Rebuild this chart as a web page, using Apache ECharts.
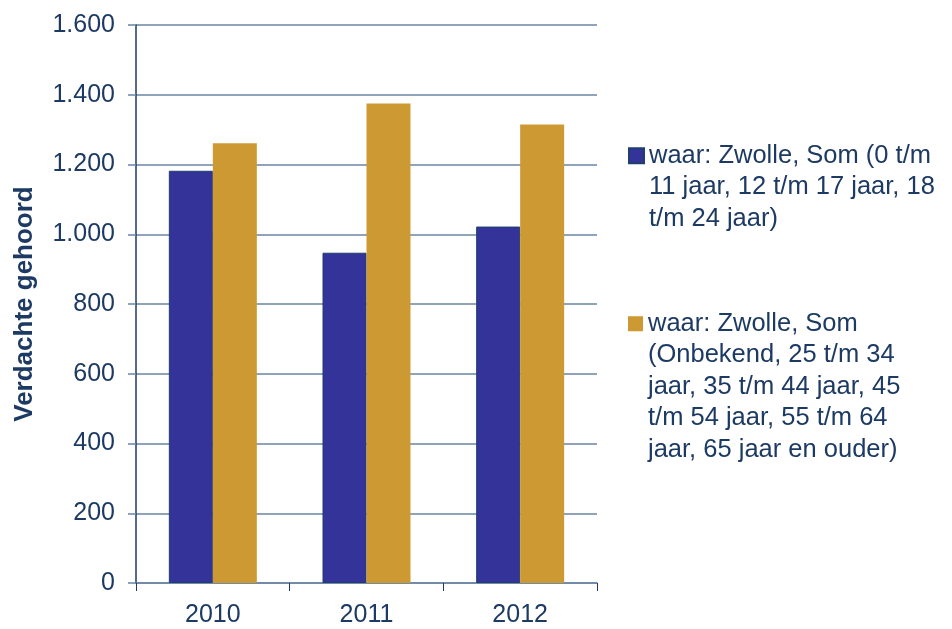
<!DOCTYPE html>
<html lang="nl">
<head>
    <meta charset="UTF-8">
    <title>Verdachte gehoord</title>
    <style>
        html, body { margin: 0; padding: 0; background: #fff; }
        #main { width: 952px; height: 629px; }
    </style>
</head>
<body>
    <div id="main"></div>
    <script src="https://cdn.jsdelivr.net/npm/echarts@6/dist/echarts.min.js"></script>
    <script>
        // jaren op de x-as
        var years = ['2010', '2011', '2012'];
        // leeftijd tot 24 jaar
        var jong = [1182, 947, 1022];
        // onbekend en 25 jaar en ouder
        var oud = [1261, 1375, 1315];
        var seriesNames = [
            'waar: Zwolle, Som (0 t/m\n11 jaar, 12 t/m 17 jaar, 18\nt/m 24 jaar)',
            'waar: Zwolle, Som\n(Onbekend, 25 t/m 34\njaar, 35 t/m 44 jaar, 45\nt/m 54 jaar, 55 t/m 64\njaar, 65 jaar en ouder)'
        ];

        var textColor = '#1c3a63';
        var gridColor = '#6a84a2';
        var lh = 31.5;

        // lege regels ervoor zodat het blokje bij de eerste regel staat
        function padTop(name) {
            var n = name.split('\n').length - 1;
            return new Array(n + 1).join('\n') + name;
        }

        var myChart = echarts.init(document.getElementById('main'));
        var option = {
            animation: false,
            textStyle: { fontFamily: 'Liberation Sans, Arial, sans-serif' },
            grid: { left: 136, right: 355, top: 25, bottom: 46 },
            legend: [{
                data: [seriesNames[0]],
                left: 623,
                top: 72,
                icon: 'rect',
                itemWidth: 15,
                itemHeight: 15,
                selectedMode: false,
                formatter: padTop,
                textStyle: { color: textColor, fontSize: 25.5, lineHeight: lh }
            }, {
                data: [seriesNames[1]],
                left: 623,
                top: 177,
                icon: 'rect',
                itemWidth: 15,
                itemHeight: 15,
                selectedMode: false,
                formatter: padTop,
                textStyle: { color: textColor, fontSize: 25.5, lineHeight: lh }
            }],
            xAxis: {
                type: 'category',
                data: years,
                axisLine: { lineStyle: { color: gridColor, width: 1.5 } },
                axisTick: { show: true, length: 8, lineStyle: { color: textColor } },
                axisLabel: { color: textColor, fontSize: 25, margin: 20 }
            },
            yAxis: {
                type: 'value',
                min: 0,
                max: 1600,
                interval: 200,
                name: 'Verdachte gehoord',
                nameLocation: 'middle',
                nameRotate: 90,
                nameGap: 98,
                nameTextStyle: { color: textColor, fontSize: 26, fontWeight: 'bold' },
                axisLine: { show: true, lineStyle: { color: textColor, width: 1.5 } },
                axisTick: { show: true, length: 8, lineStyle: { color: gridColor, width: 1.5 } },
                splitLine: { lineStyle: { color: gridColor, width: 1.5 } },
                axisLabel: {
                    color: textColor,
                    fontSize: 25,
                    margin: 21,
                    formatter: function (v) {
                        return String(v).replace(/\B(?=(\d{3})+(?!\d))/g, '.');
                    }
                }
            },
            series: [{
                name: seriesNames[0],
                type: 'bar',
                data: jong,
                barWidth: 44,
                barGap: 0,
                itemStyle: { color: '#333399', borderColor: '#1f3f6e', borderWidth: 1 }
            }, {
                name: seriesNames[1],
                type: 'bar',
                data: oud,
                barWidth: 44,
                barGap: 0,
                itemStyle: { color: '#cc9933' }
            }]
        };
        myChart.setOption(option);
    </script>
</body>
</html>
